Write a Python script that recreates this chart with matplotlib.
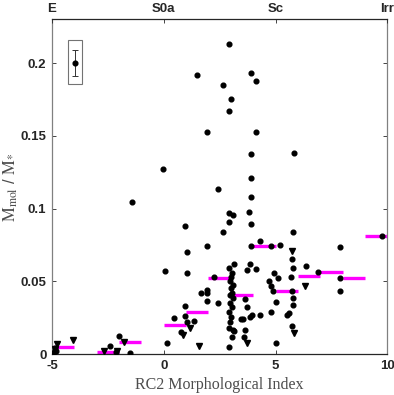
import numpy as np
import matplotlib
matplotlib.use('Agg')
import matplotlib.pyplot as plt
from matplotlib.patches import Rectangle

# detections (filled circles)
det_x = [-4.92, -4.88, -4.84,
         -2.42, -2.13, -2.01, -1.52, -1.42,
         -0.03, 0.05, 0.15, 0.45, 0.94, 1.05, 1.05, 0.94, 0.97, 1.02, 0.75, 1.35,
         1.49, 1.65, 1.94, 1.94, 1.94, 1.94, 1.94,
         2.24, 2.43, 2.43, 2.63, 2.64, 2.93, 2.93, 3.02, 2.91, 2.91, 3.10,
         2.91, 3.06, 2.99, 2.95, 3.10, 3.00, 3.05, 2.95, 3.10, 2.97, 3.05, 2.92,
         3.00, 2.95, 2.91, 3.10, 3.15, 3.03, 2.91,
         3.14, 3.44, 3.54, 3.60, 3.63, 3.73, 3.65, 3.84, 3.96, 3.73, 3.84, 3.80,
         3.91, 3.91, 3.91, 3.91, 3.91, 3.91,
         4.12, 4.12, 4.14, 4.31, 4.30, 4.81, 4.70, 4.81, 4.90, 4.81, 4.93, 5.03, 5.00,
         5.21, 5.12, 5.67, 5.72, 5.78, 5.80, 5.81, 5.78, 5.78, 5.60, 5.52, 5.72, 5.75,
         6.37, 6.90, 7.88, 7.88, 7.88, 9.75]
det_y = [0.0015, 0.0040, 0.0025,
         0.0060, 0.0018, 0.0128, 0.0008, 0.1047,
         0.1270, 0.0574, 0.0076, 0.0252, 0.0884, 0.0702, 0.0558, 0.0333, 0.0260, 0.0225, 0.0156, 0.0229,
         0.1917, 0.0420, 0.0441, 0.0424, 0.0369, 0.0741, 0.1529,
         0.0530, 0.1138, 0.0355, 0.1846, 0.0838, 0.2128, 0.1673, 0.1753, 0.0971, 0.0911, 0.0954,
         0.0592, 0.0558, 0.0530, 0.0500, 0.0477, 0.0454, 0.0420, 0.0408, 0.0385, 0.0351, 0.0328, 0.0293,
         0.0259, 0.0225, 0.0180, 0.0167, 0.0160, 0.0121, 0.0048,
         0.0622, 0.0241, 0.0241, 0.0121, 0.0379, 0.0324, 0.0167, 0.0259, 0.0270, 0.0580, 0.0622, 0.0980,
         0.1081, 0.0895, 0.0741, 0.1212, 0.1373, 0.1933,
         0.1875, 0.1524, 0.0585, 0.0776, 0.0270, 0.0746, 0.0500, 0.0466, 0.0438, 0.0293, 0.0558, 0.0362, 0.0080,
         0.0750, 0.0523, 0.0530, 0.0654, 0.0596, 0.0842, 0.1382, 0.0386, 0.0340, 0.0282, 0.0270, 0.0195, 0.0438,
         0.0608, 0.0563, 0.0735, 0.0523, 0.0436, 0.0810]

# upper limits (downward triangles)
lim_x = [-4.85, -4.78, -4.05, -2.68, -2.08, -1.79, 0.87, 1.17, 1.57, 3.73, 5.72, 5.82, 6.32]
lim_y = [0.0035, 0.0068, 0.0098, 0.0020, 0.0022, 0.0085, 0.0133, 0.0179, 0.0057, 0.0080, 0.0707, 0.0149, 0.0466]

# binned medians
bin_lo = [-5, -3, -2, 0, 1, 2, 3, 4, 5, 6, 7, 8, 9]
bin_med = [0.0052, 0.0018, 0.0087, 0.0199, 0.0293, 0.0524, 0.0405, 0.0741, 0.0437, 0.0537, 0.0565, 0.0523, 0.0810]

# typical error bar
err_x, err_y, err_size = -3.98, 0.200, 0.009

top_ticks = [-5, 0, 5, 10]
top_labels = ['E', 'S0a', 'Sc', 'Irr']

plt.rcParams['font.family'] = 'Liberation Sans'
plt.rcParams['mathtext.fontset'] = 'stix'

fig = plt.figure(figsize=(3.94, 3.95), dpi=100)
ax = fig.add_axes([0.132, 0.103, 0.851, 0.848])

ax.hlines(bin_med, bin_lo, np.array(bin_lo) + 1, colors='#ff00ff', lw=2.4, zorder=2)
ax.plot(det_x, det_y, 'o', color='k', ms=3.4, zorder=3)
ax.plot(lim_x, lim_y, 'v', color='k', ms=4.0, zorder=3)

# inset showing typical error
ax.add_patch(Rectangle((err_x - 0.3, err_y - 0.0145), 0.62, 0.030,
                       fill=False, ec='0.45', lw=0.8, zorder=2))
ax.errorbar([err_x], [err_y], yerr=err_size, fmt='o', color='k', ms=3.4,
            ecolor='0.2', elinewidth=0.7, capsize=2.5, capthick=0.7, zorder=3)

ax.set_xlim(-5, 10)
ax.set_ylim(0, 0.23)
ax.set_xticks([-5, 0, 5, 10])
ax.set_xticklabels(['-5', '0', '5', '10'])
ax.set_yticks([0, 0.05, 0.1, 0.15, 0.2])
ax.set_yticklabels(['0', '0.05', '0.1', '0.15', '0.2'])
ax.tick_params(direction='in', length=3, width=0.6, right=True, labelsize=9.5,
               colors='0.15', pad=4)
for lab in ax.get_xticklabels() + ax.get_yticklabels():
    lab.set_fontweight('bold')
for s in ['left', 'right']:
    ax.spines[s].set_color('0.5')
for s in ['top', 'bottom']:
    ax.spines[s].set_color('0.15')
for s in ax.spines.values():
    s.set_linewidth(0.9)

ax.set_xlabel('RC2 Morphological Index', family='Liberation Serif', fontsize=11.5,
              color='0.3')
ax.xaxis.set_label_coords(0.5, -0.067)
ax.set_ylabel(r'$\mathrm{M_{mol}}$ / $\mathrm{M_{*}}$', fontsize=12, color='0.3')
ax.yaxis.set_label_coords(-0.095, 0.5)

ax2 = ax.twiny()
ax2.set_xlim(ax.get_xlim())
ax2.set_xticks(top_ticks)
ax2.set_xticklabels(top_labels, fontweight='bold')
ax2.tick_params(direction='in', length=3, width=0.6, labelsize=9.5, colors='0.15', pad=3)
for s in ax2.spines.values():
    s.set_visible(False)

fig.savefig('out.png', dpi=100)
